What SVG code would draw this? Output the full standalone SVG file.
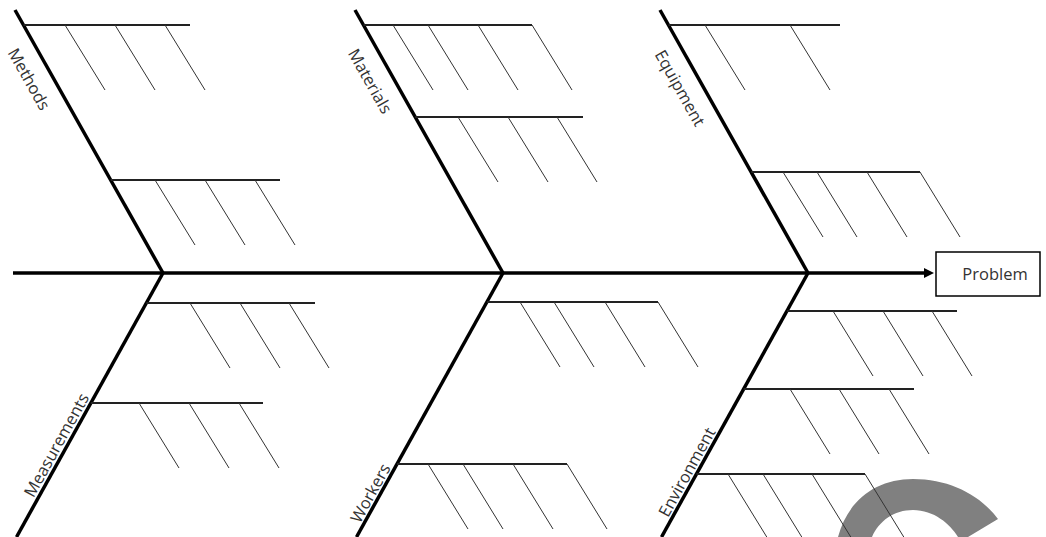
<svg xmlns="http://www.w3.org/2000/svg" width="1046" height="537" viewBox="0 0 1046 537">
<style>
.bone{stroke:#000;stroke-width:3.5;fill:none}
.sub{stroke:#222;stroke-width:1.8;fill:none}
.tick{stroke:#333;stroke-width:1;fill:none}
.lbl{font-family:"Open Sans","Liberation Sans",sans-serif;font-size:16.5px;fill:#333;text-anchor:middle}
.box{fill:#fff;stroke:#000;stroke-width:1.5}
</style>
<defs>
<marker id="arr" viewBox="0 0 10 10" refX="0" refY="5" markerWidth="10" markerHeight="10" markerUnits="userSpaceOnUse" orient="auto">
<path d="M0,0 L10,5 L0,10 Z" fill="#000"/>
</marker>
</defs>
<rect width="1046" height="537" fill="#fff"/>
<path id="watermark" d="M838,537 C848,500 876,479 913,479 C950,479 980,495 998,519 L968,537 L958,537 C950,524 934,510 913,510 C894,510 879,521 872,537 Z" fill="#808080"/>
<g id="connectors">
<line x1="13" y1="273" x2="924" y2="273" class="bone" marker-end="url(#arr)"/>
</g>
<g id="methods">
<line x1="163" y1="273" x2="15" y2="10" class="bone"/>
<path class="sub" d="M23.5,25H190M110.7,180H280"/>
<path class="tick" d="M65,25l40,65M115,25l40,65M165,25l40,65M155,180l40,65M205,180l40,65M255,180l40,65"/>
<text class="lbl" transform="translate(24,82) rotate(60.6)">Methods</text>
</g>
<g id="materials">
<line x1="503" y1="273" x2="355" y2="10" class="bone"/>
<path class="sub" d="M363.5,25H532M415.2,117H583"/>
<path class="tick" d="M393,25l40,65M428,25l40,65M478,25l40,65M532,25l40,65M458,117l40,65M508,117l40,65M557,117l40,65"/>
<text class="lbl" transform="translate(365,84) rotate(60.6)">Materials</text>
</g>
<g id="equipment">
<line x1="808" y1="273" x2="660" y2="10" class="bone"/>
<path class="sub" d="M668.5,25H840M751.2,172H920"/>
<path class="tick" d="M705,25l40,65M790,25l40,65M783,172l40,65M817,172l40,65M867,172l40,65M920,172l40,65"/>
<text class="lbl" transform="translate(675,91) rotate(60.6)">Equipment</text>
</g>
<g id="measurements">
<line x1="163" y1="273" x2="16.5" y2="537" class="bone"/>
<path class="sub" d="M146.3,303H315M90.8,403H263"/>
<path class="tick" d="M190,303l40,65M240,303l40,65M289,303l40,65M139,403l40,65M189,403l40,65M239,403l40,65"/>
<text class="lbl" transform="translate(61.5,448) rotate(-61)">Measurements</text>
</g>
<g id="workers">
<line x1="503" y1="273" x2="356.5" y2="537" class="bone"/>
<path class="sub" d="M486.9,302H658M397,464H567"/>
<path class="tick" d="M520,302l40,65M554,302l40,65M605,302l40,65M658,302l40,65M428,464l40,65M463,464l40,65M513,464l40,65M567,464l40,65"/>
<text class="lbl" transform="translate(375.5,496) rotate(-61)">Workers</text>
</g>
<g id="environment">
<line x1="808" y1="273" x2="661.5" y2="537" class="bone"/>
<path class="sub" d="M786.9,311H957M743.6,389H914M696.4,474H865"/>
<path class="tick" d="M833,311l40,65M883,311l40,65M932,311l40,65M790,389l40,65M839,389l40,65M889,389l40,65M728,474l40,65M763,474l40,65M812,474l40,65M865,474l40,65"/>
<text class="lbl" transform="translate(692,475) rotate(-61)">Environment</text>
</g>
<g id="problem">
<rect x="936" y="252" width="104" height="44" class="box"/>
<text class="lbl" x="995" y="280">Problem</text>
</g>
</svg>
